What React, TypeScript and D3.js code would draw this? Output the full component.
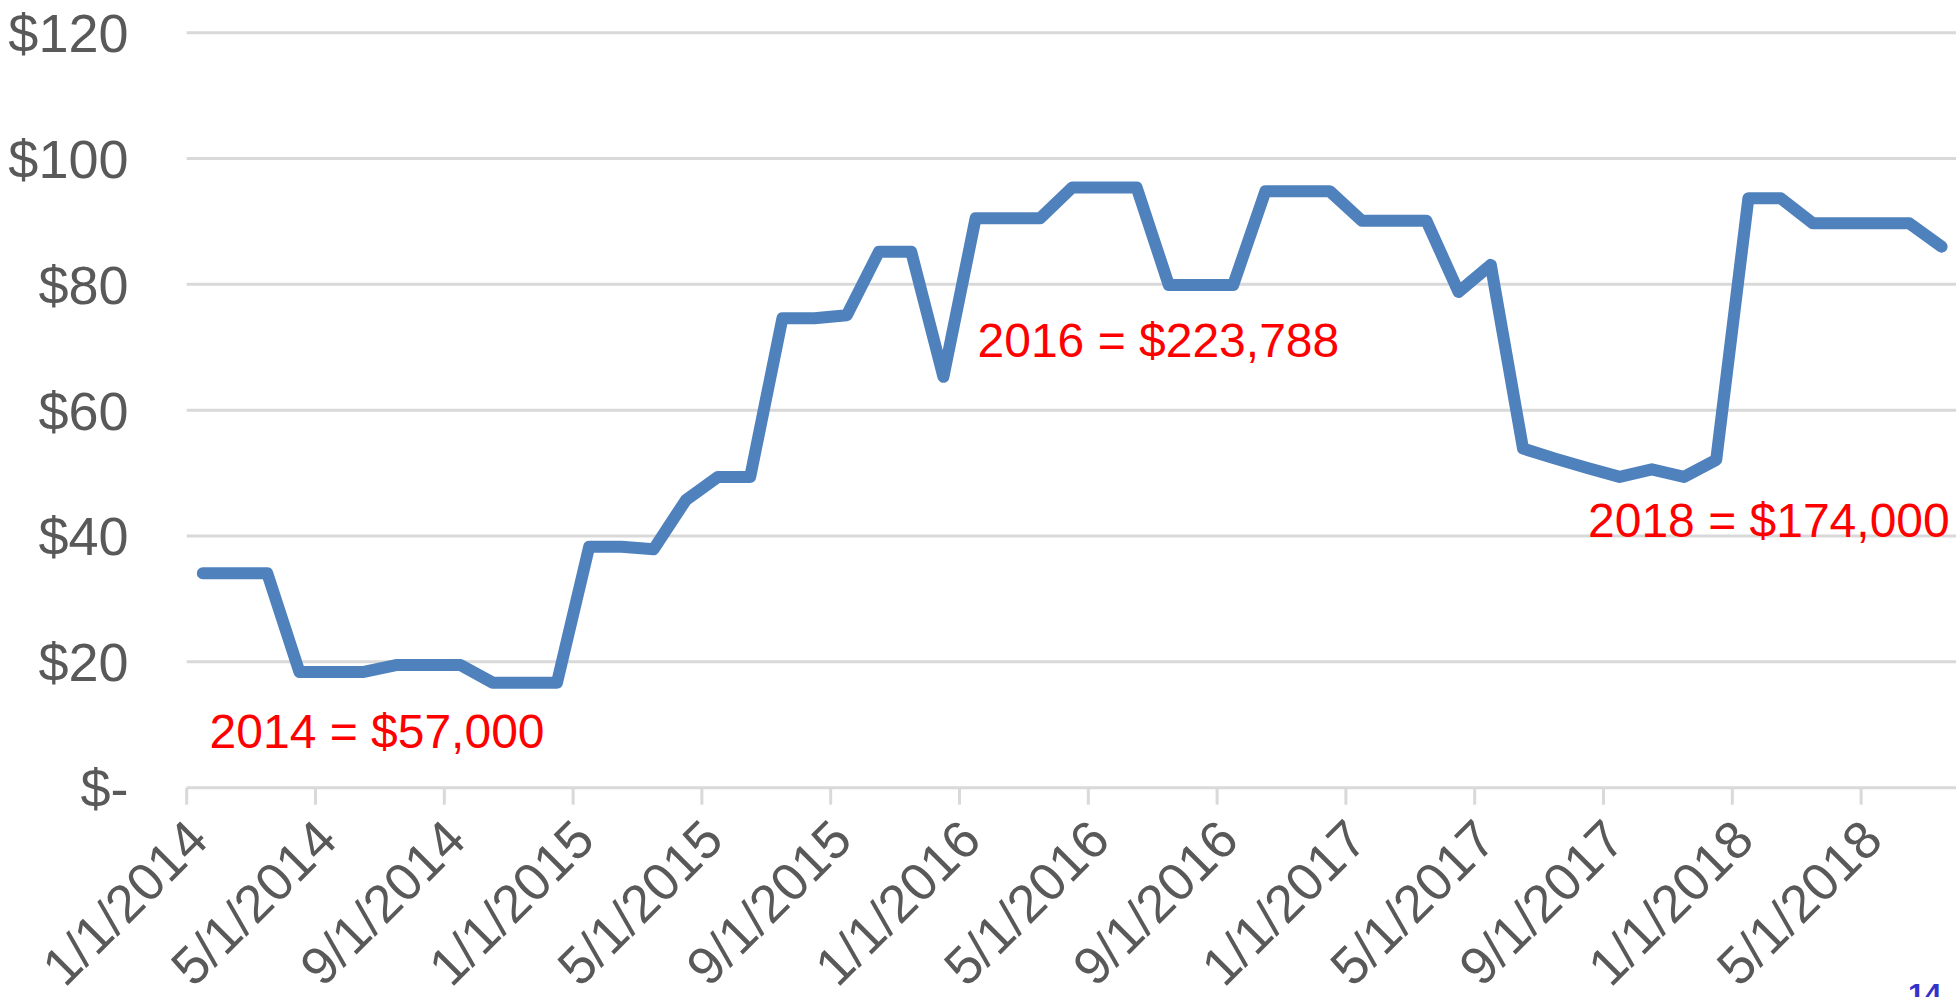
import React from "react";
import * as d3 from "d3";

// Monthly categories: Jan 2014 .. Jul 2018
const months: Date[] = d3.timeMonth.range(new Date(2014, 0, 1), new Date(2018, 7, 1));

// Monthly values ($)
const values: number[] = [
  34.1, 34.1, 34.1, 18.4, 18.4, 18.4, 19.5, 19.5, 19.5, 16.7, 16.7, 16.7,
  38.3, 38.3, 37.9, 45.7, 49.4, 49.4, 74.6, 74.6, 75.1, 85.2, 85.2, 65.3,
  90.5, 90.5, 90.5, 95.4, 95.4, 95.4, 79.9, 79.9, 79.9, 94.8, 94.8, 94.8,
  90.1, 90.1, 90.1, 78.8, 83.1, 53.9, 52.3, 50.8, 49.4, 50.6, 49.4, 52.1,
  93.7, 93.7, 89.7, 89.7, 89.7, 89.7, 86.0,
];

const tickLabels: string[] = [
  "1/1/2014", "5/1/2014", "9/1/2014", "1/1/2015", "5/1/2015", "9/1/2015",
  "1/1/2016", "5/1/2016", "9/1/2016", "1/1/2017", "5/1/2017", "9/1/2017",
  "1/1/2018", "5/1/2018",
];
const tickEvery = 4;

const yTicks: number[] = [0, 20, 40, 60, 80, 100, 120];

const annotationTexts: string[] = ["2014 = $57,000", "2016 = $223,788", "2018 = $174,000"];
const annotationMonth: number[] = [0.71, 24.56, 43.52];
const annotationValue: number[] = [6.3, 68.4, 39.9];

const W = 1956;
const H = 997;
const LEFT = 186.7;
const STEP = 32.2;
const Y0 = 787.7;
const Y120 = 32.7;

export default function App() {
  const x = d3.scaleLinear().domain([0, months.length]).range([LEFT, LEFT + months.length * STEP]);
  const y = d3.scaleLinear().domain([0, 120]).range([Y0, Y120]);

  const line = d3
    .line<number>()
    .x((_, i) => x(i + 0.5))
    .y((d) => y(d));

  const yLabel = (v: number) => (v === 0 ? "$-" : "$" + v);
  const font = "Arial, 'Liberation Sans', Helvetica, sans-serif";

  return (
    <svg
      width={W}
      height={H}
      viewBox={`0 0 ${W} ${H}`}
      style={{ position: "fixed", left: 0, top: 0, background: "#fff" }}
    >
      <rect x={0} y={0} width={W} height={H} fill="#fff" />
      {/* gridlines */}
      {yTicks.map((t) => (
        <line key={"g" + t} x1={LEFT} x2={W} y1={y(t)} y2={y(t)} stroke="#D9D9D9" strokeWidth={3} />
      ))}
      {/* x ticks */}
      {tickLabels.map((lab, k) => {
        const tx = x(k * tickEvery);
        return (
          <g key={"t" + k}>
            <line x1={tx} x2={tx} y1={Y0} y2={Y0 + 17} stroke="#D9D9D9" strokeWidth={3} />
            <text
              transform={`translate(${tx + 24},${Y0 + 55}) rotate(-45)`}
              textAnchor="end"
              fontFamily={font}
              fontSize={53}
              fill="#595959"
            >
              {lab}
            </text>
          </g>
        );
      })}
      {/* y labels */}
      {yTicks.map((t) => (
        <text
          key={"y" + t}
          x={128.5}
          y={y(t) + 0.358 * 54}
          textAnchor="end"
          fontFamily={font}
          fontSize={54}
          fill="#595959"
        >
          {yLabel(t)}
        </text>
      ))}
      {/* series */}
      <path
        d={line(values) || ""}
        fill="none"
        stroke="#4F81BD"
        strokeWidth={12}
        strokeLinejoin="round"
        strokeLinecap="round"
      />
      {/* annotations */}
      {annotationTexts.map((txt, i) => (
        <text
          key={"a" + i}
          x={x(annotationMonth[i])}
          y={y(annotationValue[i])}
          fontFamily={font}
          fontSize={48}
          fill="#FF0000"
        >
          {txt}
        </text>
      ))}
      {/* slide number */}
      <text x={1908} y={1004} fontFamily={font} fontSize={30} fontWeight="bold" fill="#3333CC">
        14
      </text>
    </svg>
  );
}
